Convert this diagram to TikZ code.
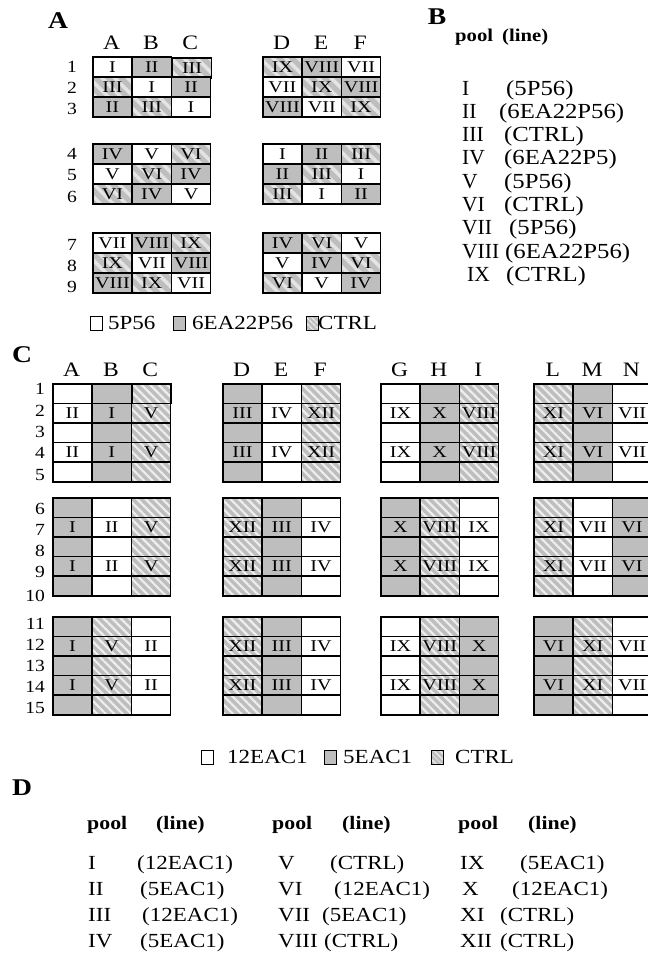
\documentclass[tikz,border=0pt]{standalone}
\usepackage{fontspec}
\setmainfont{Liberation Serif}[FakeStretch=1.15]
\newfontfamily\cellfam{Liberation Serif}[FakeStretch=1.22]
\newfontfamily\plainfam{Liberation Serif}
\usetikzlibrary{patterns.meta}
\definecolor{cellgray}{RGB}{190,190,190}
\definecolor{stripe}{RGB}{238,238,238}
\definecolor{stripeA}{RGB}{228,228,228}
\newcommand\fsz[1]{\fontsize{#1}{#1}\selectfont}
\tikzset{
  cellbase/.style={draw=black, line width=1.5pt, minimum width=39.33pt, minimum height=20pt, inner sep=0pt, anchor=north west, font=\cellfam\fsz{16.5}},
  cellW/.style={cellbase, fill=white},
  cellG/.style={cellbase, fill=cellgray},
  cellH/.style={cellbase, preaction={fill=cellgray}, pattern={Lines[angle=-45,distance=9pt,line width=3.5pt]}, pattern color=stripeA},
  ccellW/.style={cellW, minimum height=19.6pt},
  ccellG/.style={cellG, minimum height=19.6pt},
  ccellH/.style={cellbase, minimum height=19.6pt, preaction={fill=cellgray}, pattern={Lines[angle=-45,distance=6pt,line width=2.2pt]}, pattern color=stripe},
  hdr/.style={font=\fsz{20.5}, inner sep=0pt},
  rowlab/.style={font=\fsz{17}, inner sep=0pt},
  crowlab/.style={font=\fsz{17}, inner sep=0pt, anchor=east},
  ttl/.style={font=\fsz{24}\bfseries, inner sep=0pt},
  lboxW/.style={draw=black, line width=1pt, minimum width=12pt, minimum height=14pt, inner sep=0pt, fill=white},
  lboxG/.style={lboxW, fill=cellgray},
  lboxH/.style={lboxW, preaction={fill=cellgray}, pattern={Lines[angle=-45,distance=4pt,line width=1.4pt]}, pattern color=stripe},
  ltxt/.style={font=\fsz{20}, inner sep=0pt, anchor=west},
  btxt/.style={font=\fsz{21.5}, inner sep=0pt, anchor=base west},
  bnum/.style={font=\plainfam\fsz{21.5}, inner sep=0pt, anchor=base west},
  bhd/.style={font=\fsz{18}\bfseries, inner sep=0pt, anchor=base west},
  dhd/.style={font=\fsz{19}\bfseries, inner sep=0pt, anchor=base west},
  dtxt/.style={font=\fsz{20}, inner sep=0pt, anchor=base west},
}
\newcommand\cellrow[4]{%
  \foreach \t/\s [count=\i] in {#4}{%
    \node[cell\t] (#1-\i) at ({#2+(\i-1)*39.33},#3) {\s};}}
\newcommand\cblock[4]{%
  \foreach \t/\s [count=\i] in {#4}{%
    \foreach \j in {1,...,5}{%
      \ifodd\j \def\lab{}\else \def\lab{\s}\fi
      \node[ccell\t] (#1-\i-\j) at ({#2+(\i-1)*39.33},{#3+(\j-1)*19.6}) {\lab};}}}
\begin{document}
\begin{tikzpicture}[x=1pt,y=-1pt]
\useasboundingbox (0,0) rectangle (648,956);
% ---------------- Panel A
\node[ttl] (tA) at (58,21) {A};
\foreach \l/\x [count=\k] in {A/111.7,B/151,C/190.3,D/281.7,E/321,F/360.3}
  \node[hdr] (ha\k) at (\x,43) {\l};
\foreach \r/\y in {1/67,2/88,3/109,4/154,5/175,6/197,7/245,8/266,9/287}
  \node[rowlab] (ra\r) at (72,\y) {\r};
\cellrow{a1}{92}{56}{W/I,G/II,H/III}
\cellrow{d1}{262}{56}{H/IX,G/VIII,W/VII}
\cellrow{a2}{92}{76}{H/III,W/I,G/II}
\cellrow{d2}{262}{76}{W/VII,H/IX,G/VIII}
\cellrow{a3}{92}{96}{G/II,H/III,W/I}
\cellrow{d3}{262}{96}{G/VIII,W/VII,H/IX}
\cellrow{a4}{92}{143}{G/IV,W/V,H/VI}
\cellrow{d4}{262}{143}{W/I,G/II,H/III}
\cellrow{a5}{92}{163}{W/V,H/VI,G/IV}
\cellrow{d5}{262}{163}{G/II,H/III,W/I}
\cellrow{a6}{92}{183}{H/VI,G/IV,W/V}
\cellrow{d6}{262}{183}{H/III,W/I,G/II}
\cellrow{a7}{92}{232}{W/VII,G/VIII,H/IX}
\cellrow{d7}{262}{232}{G/IV,H/VI,W/V}
\cellrow{a8}{92}{252}{H/IX,W/VII,G/VIII}
\cellrow{d8}{262}{252}{W/V,G/IV,H/VI}
\cellrow{a9}{92}{272}{G/VIII,H/IX,W/VII}
\cellrow{d9}{262}{272}{H/VI,W/V,G/IV}
% legend A
\node[lboxW] (la1) at (96,323) {};
\node[ltxt] (la1t) at (108,323) {5P56};
\node[lboxG] (la2) at (179,323) {};
\node[ltxt] (la2t) at (192,323) {6EA22P56};
\node[lboxH] (la3) at (312,323) {};
\node[ltxt] (la3t) at (318,323) {CTRL};
% ---------------- Panel B
\node[ttl] (tB) at (437,17) {B};
\node[bhd] (bpool) at (455,41) {pool};
\node[bhd] (bline) at (502,41) {(line)};
\foreach \n/\nx/\p/\px [count=\k] in {I/462/(5P56)/506, II/462/(6EA22P56)/499, III/462/(CTRL)/504, IV/462/(6EA22P5)/504, V/462/(5P56)/504, VI/462/(CTRL)/504, VII/462/(5P56)/509, VIII/462/(6EA22P56)/505, IX/467/(CTRL)/506}{
  \node[bnum] (bn\k) at (\nx,{95+23.3*(\k-1)}) {\n};
  \node[btxt] (bp\k) at (\px,{95+23.3*(\k-1)}) {\p};
}
% ---------------- Panel C
\node[ttl] (tC) at (22,355) {C};
\foreach \l/\x [count=\k] in {A/71.7,B/111,C/150.3,D/241.7,E/281,F/320.3,G/399.7,H/439,I/478.3,L/552.7,M/592,N/631.3}
  \node[hdr] (hc\k) at (\x,370) {\l};
\foreach \r/\y in {1/389,2/411,3/432,4/453,5/475,6/509,7/530,8/551,9/572,10/596,11/624,12/645,13/666,14/687,15/708}
  \node[crowlab] (rc\r) at (45,\y) {\r};
\cblock{c1}{52}{383}{W/II,G/I,H/V}
\cblock{c2}{222}{383}{G/III,W/IV,H/XII}
\cblock{c3}{380}{383}{W/IX,G/X,H/VIII}
\cblock{c4}{533}{383}{H/XI,G/VI,W/VII}
\cblock{c5}{52}{497}{G/I,W/II,H/V}
\cblock{c6}{222}{497}{H/XII,G/III,W/IV}
\cblock{c7}{380}{497}{G/X,H/VIII,W/IX}
\cblock{c8}{533}{497}{H/XI,W/VII,G/VI}
\cblock{c9}{52}{616}{G/I,H/V,W/II}
\cblock{c10}{222}{616}{H/XII,G/III,W/IV}
\cblock{c11}{380}{616}{W/IX,H/VIII,G/X}
\cblock{c12}{533}{616}{G/VI,H/XI,W/VII}
% legend C
\node[lboxW] (lc1) at (207,757) {};
\node[ltxt] (lc1t) at (227,757) {12EAC1};
\node[lboxG] (lc2) at (330,757) {};
\node[ltxt] (lc2t) at (343,757) {5EAC1};
\node[lboxH] (lc3) at (437,757) {};
\node[ltxt] (lc3t) at (455,757) {CTRL};
% ---------------- Panel D
\node[ttl] (tD) at (22,788) {D};
\foreach \x/\t [count=\k] in {87/pool,156/(line),272/pool,342/(line),458/pool,528/(line)}
  \node[dhd] (dh\k) at (\x,829) {\t};
\foreach \n/\nx/\p/\px [count=\k] in {
  I/88/(12EAC1)/137, II/88/(5EAC1)/140, III/88/(12EAC1)/142, IV/88/(5EAC1)/140,
  V/278/(CTRL)/330, VI/278/(12EAC1)/334, VII/278/(5EAC1)/322, VIII/278/(CTRL)/324,
  IX/460/(5EAC1)/520, X/462/(12EAC1)/512, XI/460/(CTRL)/500, XII/460/(CTRL)/500}{
  \pgfmathsetmacro\yy{869+26*mod(\k-1,4)}
  \node[dtxt] (dn\k) at (\nx,\yy) {\n};
  \node[dtxt] (dp\k) at (\px,\yy) {\p};
}
\end{tikzpicture}
\end{document}
